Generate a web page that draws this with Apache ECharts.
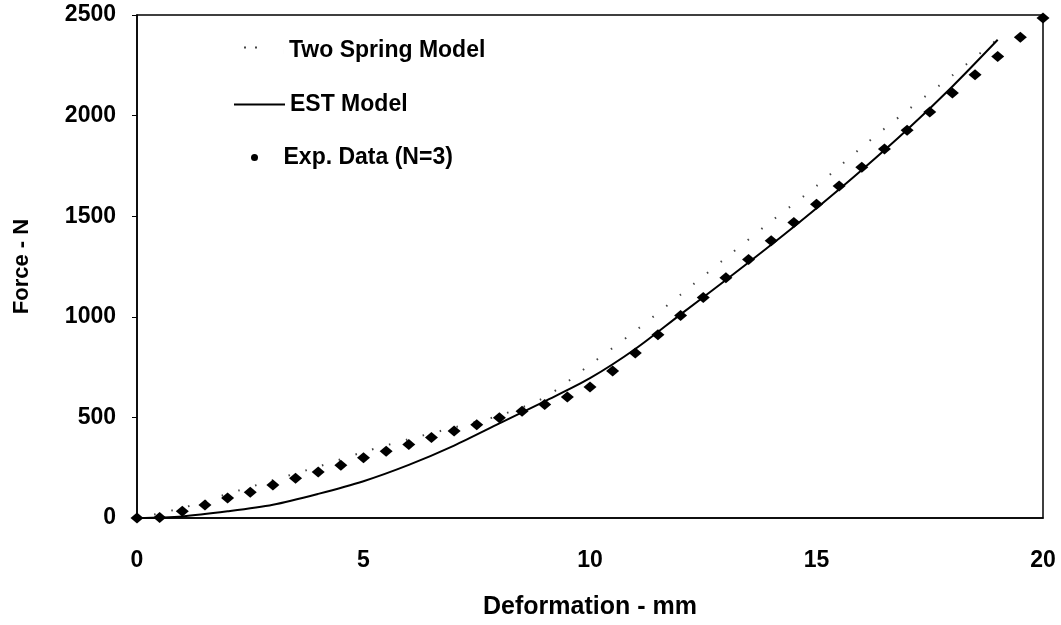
<!DOCTYPE html>
<html>
<head>
<meta charset="utf-8">
<script src="https://cdn.jsdelivr.net/npm/echarts@6/dist/echarts.min.js"></script>
<style>
html,body{margin:0;padding:0;background:#fff;}
#chart{width:1061px;height:625px;}
</style>
</head>
<body>
<div id="chart"></div>
<script>
// Data
const estX = [0,1,2,3,4,5,6,7,8,9,10,11,12,13,14,15,16,17,18,19];
const estY = [0,8,33,66,120,183,264,360,470,580,695,840,1012,1183,1358,1540,1730,1930,2145,2377];

const springX = [0,1,2,3,4,5,6,7,8,9,10,11,12,13,14,15,16,17,18,19];
const springY = [0,50,120,188,255,328,392,450,510,600,762,930,1110,1293,1475,1650,1843,2025,2200,2380];

const expX = [0,0.5,1,1.5,2,2.5,3,3.5,4,4.5,5,5.5,6,6.5,7,7.5,8,8.5,9,9.5,10,10.5,11,11.5,12,12.5,13,13.5,14,14.5,15,15.5,16,16.5,17,17.5,18,18.5,19,19.5,20];
const expY = [0,3,33,65,100,128,164,198,229,262,299,332,365,400,432,463,498,531,564,601,651,731,820,911,1007,1096,1194,1285,1378,1469,1560,1650,1743,1834,1927,2018,2112,2203,2294,2390,2485];

const xTicks = [0,5,10,15,20];
const yTicks = [0,500,1000,1500,2000,2500];

const zip = (a,b) => a.map((v,i) => [v,b[i]]);
const FONT = 'Liberation Sans, Arial, sans-serif';
const legendText = {fontFamily:FONT, fontWeight:'bold', fontSize:23, color:'#000'};

const chart = echarts.init(document.getElementById('chart'), null, {renderer:'canvas'});
chart.setOption({
  animation: false,
  backgroundColor: '#fff',
  grid: {left:137, right:18, top:15, bottom:106, show:true, borderColor:'#000', borderWidth:1.5, backgroundColor:'transparent'},
  xAxis: {
    type:'value', min:xTicks[0], max:xTicks[xTicks.length-1], interval:5,
    name:'Deformation - mm', nameLocation:'middle', nameGap:77,
    nameTextStyle:{fontFamily:FONT, fontWeight:'bold', fontSize:25, color:'#000'},
    axisLine:{show:true, onZero:false, lineStyle:{color:'#000', width:1.5}},
    axisTick:{show:false},
    axisLabel:{fontFamily:FONT, fontWeight:'bold', fontSize:23, color:'#000', margin:31, formatter: v => String(v)},
    splitLine:{show:false}
  },
  yAxis: {
    type:'value', min:yTicks[0], max:yTicks[yTicks.length-1], interval:500,
    name:'Force - N', nameLocation:'middle', nameGap:104,
    nameTextStyle:{fontFamily:FONT, fontWeight:'bold', fontSize:22, color:'#000'},
    axisLine:{show:true, lineStyle:{color:'#000', width:1.5}},
    axisTick:{show:true, length:5, lineStyle:{color:'#000'}},
    axisLabel:{fontFamily:FONT, fontWeight:'bold', fontSize:23, color:'#000', margin:21, formatter: v => String(v)},
    splitLine:{show:false}
  },
  legend: [
    {data:[{name:'Two Spring Model', icon:'path://M0,0h2v2h-2z M11,0h2v2h-2z M39.99,0h0.01v8h-0.01z'}],
     orient:'vertical', left:239, top:34, itemWidth:40, itemHeight:8, textStyle:legendText,
     itemStyle:{color:'#444'}},
    {data:[{name:'EST Model', icon:'rect'}], orient:'vertical', left:229, top:88, itemWidth:51, itemHeight:2,
     textStyle:legendText, itemStyle:{color:'#000'}},
    {data:[{name:'Exp. Data (N=3)', icon:'circle'}], orient:'vertical', left:246, top:141, itemWidth:48, itemHeight:7,
     textStyle:legendText}
  ],
  series: [
    {name:'Two Spring Model', type:'line', data:zip(springX, springY), symbol:'none', smooth:0.3,
     lineStyle:{color:'#444', width:2, type:[1.5,16]}, itemStyle:{color:'#444'}, z:2},
    {name:'EST Model', type:'line', data:zip(estX, estY), symbol:'none', smooth:0.3,
     lineStyle:{color:'#000', width:2}, itemStyle:{color:'#000'}, z:3},
    {name:'Exp. Data (N=3)', type:'scatter', data:zip(expX, expY), symbol:'diamond', symbolSize:[13,11],
     itemStyle:{color:'#000', opacity:1}, clip:false, z:4}
  ]
});
</script>
</body>
</html>
